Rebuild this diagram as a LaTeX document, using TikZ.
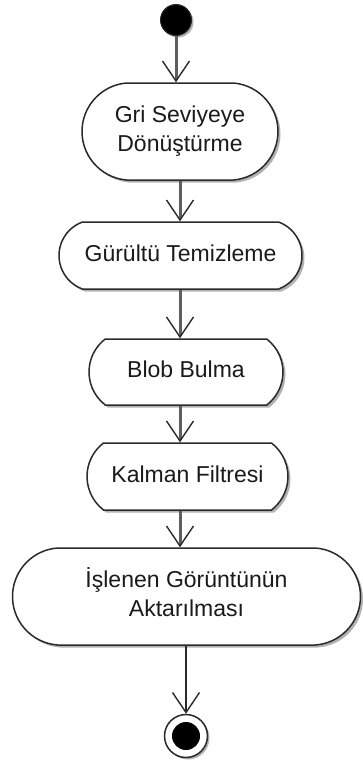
\documentclass[tikz,border=0pt]{standalone}
\usepackage{fontspec}
\setmainfont{Liberation Sans}
\usetikzlibrary{arrows.meta,shapes.misc,shadows}
\definecolor{edge}{HTML}{2A2A2A}
\definecolor{shaft}{HTML}{5E5E5E}
\definecolor{ink}{HTML}{1A1A1A}
% label text sits a little above the middle of each activity
\newcommand{\uplift}[1]{\raisebox{4pt}{\begin{tabular}{@{}c@{}}#1\end{tabular}}}
\begin{document}
\begin{tikzpicture}[x=1pt,y=-1pt,
  activity/.style={rounded rectangle, draw=edge, line width=1.5pt, fill=white,
    inner sep=0pt, align=center, text=ink,
    font=\fontsize{23}{29}\selectfont,
    drop shadow={shadow xshift=2.5pt, shadow yshift=-2.5pt, fill=black!30, opacity=1}},
  startdot/.style={circle, fill=black, draw=edge, line width=1pt, minimum size=31pt, inner sep=0pt,
    drop shadow={shadow xshift=2pt, shadow yshift=-2pt, fill=black!30, opacity=1}},
  endring/.style={circle, draw=edge, line width=1.5pt, fill=white, minimum size=43pt, inner sep=0pt,
    drop shadow={shadow xshift=2pt, shadow yshift=-2pt, fill=black!30, opacity=1}},
  endcore/.style={circle, fill=black, minimum size=28pt, inner sep=0pt},
  flow/.style={draw=shaft, line width=3pt,
    -{Straight Barb[length=20pt,width=27pt,line width=1.4pt,color=edge]}},
  lastflow/.style={draw=edge, line width=1.6pt,
    -{Straight Barb[length=20pt,width=27pt,line width=1.4pt,color=edge]}}
]
\useasboundingbox[fill=white] (0,0) rectangle (362,761);

% activity chain
\node[startdot] (start) at (176,20) {};
\node[activity, minimum width=196pt, minimum height=97pt,
      rounded rectangle arc length=170] (b1) at (180,131.5) {\uplift{Gri Seviyeye\\Dönüştürme}};
\node[activity, minimum width=243pt, minimum height=67pt,
      rounded rectangle arc length=140] (b2) at (180.5,255.5) {\uplift{Gürültü Temizleme}};
\node[activity, minimum width=194pt, minimum height=66pt,
      rounded rectangle arc length=105] (b3) at (186,372) {\uplift{Blob Bulma}};
\node[activity, minimum width=201pt, minimum height=67pt,
      rounded rectangle arc length=105] (b4) at (187.5,476.5) {\uplift{Kalman Filtresi}};
\node[activity, minimum width=348pt, minimum height=97pt,
      rounded rectangle arc length=172] (b5) at (186.5,596.5) {\uplift{İşlenen Görüntünün\\Aktarılması}};
\node[endring] (end) at (186,736) {};
\node[endcore] (endc) at (end) {};

% vertical line the transitions run along
\coordinate (axis) at (180,0);

% transitions
\draw[flow] (start.south) -- (start.south |- b1.north);
\draw[flow] (b1.south -| axis) -- (b2.north -| axis);
\draw[flow] (b2.south -| axis) -- (b3.north -| axis);
\draw[flow] (b3.south -| axis) -- (b4.north -| axis);
\draw[flow] (b4.south -| axis) -- (b5.north -| axis);
\draw[lastflow] (b5.south -| end) -- (end.north);
\end{tikzpicture}
\end{document}
